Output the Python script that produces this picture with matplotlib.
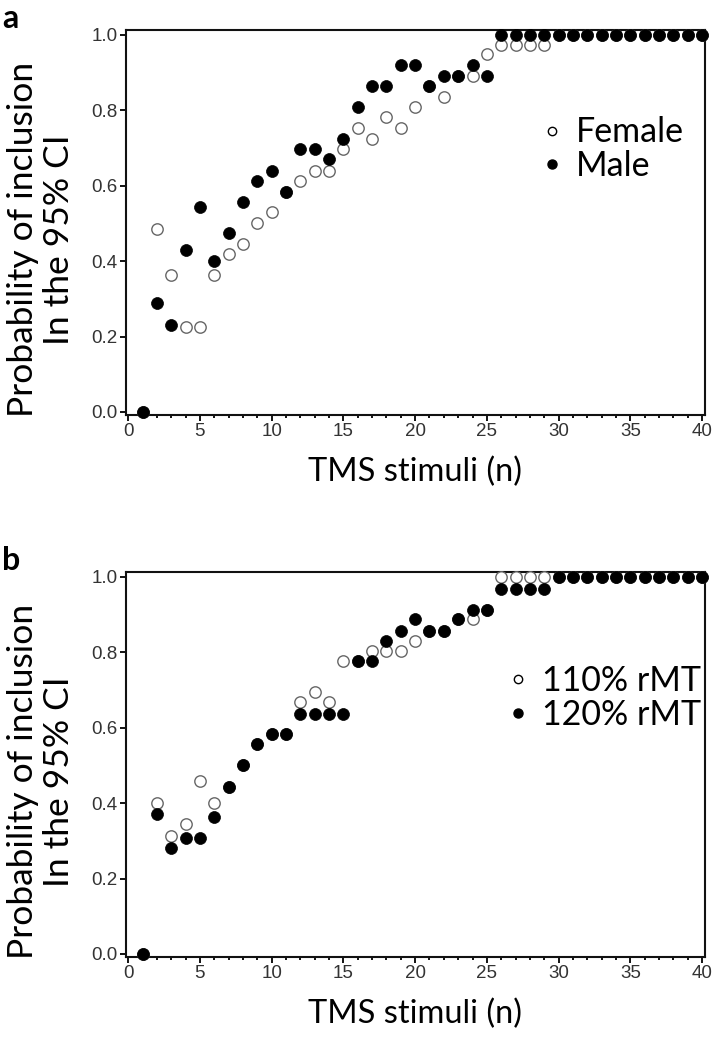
import numpy as np
import matplotlib
matplotlib.use("Agg")
import matplotlib.pyplot as plt
from matplotlib.lines import Line2D
from matplotlib.ticker import MultipleLocator, FormatStrFormatter

# number of TMS stimuli
stimuli = np.arange(1, 41)

# panel a: by sex
female = [0.0, 0.486, 0.363, 0.225, 0.225, 0.363, 0.418, 0.445, 0.502, 0.529,
          0.584, 0.613, 0.640, 0.640, 0.697, 0.752, 0.724, 0.781, 0.752, 0.808,
          0.863, 0.836, 0.891, 0.891, 0.948, 0.972, 0.972, 0.972, 0.972, 1.0,
          1.0, 1.0, 1.0, 1.0, 1.0, 1.0, 1.0, 1.0, 1.0, 1.0]
male = [0.0, 0.288, 0.231, 0.430, 0.543, 0.401, 0.474, 0.558, 0.613, 0.640,
        0.584, 0.697, 0.697, 0.670, 0.724, 0.808, 0.863, 0.863, 0.919, 0.919,
        0.863, 0.891, 0.891, 0.919, 0.891, 1.0, 1.0, 1.0, 1.0, 1.0,
        1.0, 1.0, 1.0, 1.0, 1.0, 1.0, 1.0, 1.0, 1.0, 1.0]

# panel b: by stimulation intensity
rmt110 = [0.0, 0.401, 0.314, 0.344, 0.459, 0.401, 0.443, 0.500, 0.556, 0.583,
          0.583, 0.667, 0.694, 0.667, 0.777, 0.777, 0.803, 0.803, 0.803, 0.830,
          0.857, 0.857, 0.887, 0.887, 0.913, 1.0, 1.0, 1.0, 1.0, 1.0,
          1.0, 1.0, 1.0, 1.0, 1.0, 1.0, 1.0, 1.0, 1.0, 1.0]
rmt120 = [0.0, 0.372, 0.280, 0.307, 0.307, 0.362, 0.443, 0.500, 0.556, 0.583,
          0.583, 0.636, 0.636, 0.636, 0.636, 0.777, 0.777, 0.830, 0.857, 0.887,
          0.857, 0.857, 0.887, 0.913, 0.913, 0.967, 0.967, 0.967, 0.967, 1.0,
          1.0, 1.0, 1.0, 1.0, 1.0, 1.0, 1.0, 1.0, 1.0, 1.0]

panels = [
    ("a", female, male, ["Female", "Male"], 0.6048, (0.722, 0.69)),
    ("b", rmt110, rmt120, ["110% rMT", "120% rMT"], 0.0886, (0.662, 0.672)),
]

txt_font = "Lato"

fig = plt.figure(figsize=(7.28, 10.5), dpi=100)

for letter, open_vals, filled_vals, labels, bottom, leg_pos in panels:
    ax = fig.add_axes([0.1727, bottom, 0.7957, 0.3667])

    ax.plot(stimuli, open_vals, "o", ms=8.2, mfc="white", mec="#666666",
            mew=1.0, clip_on=False, zorder=5)
    ax.plot(stimuli, filled_vals, "o", ms=8.6, mfc="black", mec="black",
            mew=0.5, clip_on=False, zorder=6)

    ax.set_xlim(-0.17, 40.2)
    ax.set_ylim(-0.008, 1.013)
    ax.xaxis.set_major_locator(MultipleLocator(5))
    ax.xaxis.set_minor_locator(MultipleLocator(1))
    ax.yaxis.set_major_locator(MultipleLocator(0.2))
    ax.yaxis.set_major_formatter(FormatStrFormatter("%.1f"))

    for sp in ax.spines.values():
        sp.set_linewidth(1.5)
        sp.set_color("#111111")
    ax.tick_params(which="major", direction="out", length=4, width=1.3,
                   labelsize=13.5, labelcolor="#333333", pad=2)
    ax.tick_params(which="minor", direction="out", length=2.5, width=1.3)
    for lab in ax.get_xticklabels() + ax.get_yticklabels():
        lab.set_family("Liberation Sans")

    ax.set_xlabel("TMS stimuli (n)", fontsize=23.5, family=txt_font, labelpad=12)
    ax.set_ylabel("Probability of inclusion\nIn the 95% CI", fontsize=25.5,
                  family=txt_font, linespacing=1.15)
    ax.yaxis.label.set_verticalalignment("center")
    ax.yaxis.set_label_coords(-0.146, 0.455)

    handles = [
        Line2D([], [], ls="none", marker="o", ms=6, mfc="white", mec="black", mew=1.0),
        Line2D([], [], ls="none", marker="o", ms=6.5, mfc="black", mec="black"),
    ]
    ax.legend(handles, labels, loc="center left", bbox_to_anchor=leg_pos,
              frameon=False, prop={"family": txt_font, "size": 24.5},
              handlelength=0.5, handletextpad=0.45, labelspacing=0.05,
              borderpad=0, borderaxespad=0)

    ax.text(-0.214, 1.03, letter, transform=ax.transAxes, fontsize=23,
            fontweight="bold", family=txt_font, va="center", ha="left")

fig.savefig("out.png", dpi=100)
